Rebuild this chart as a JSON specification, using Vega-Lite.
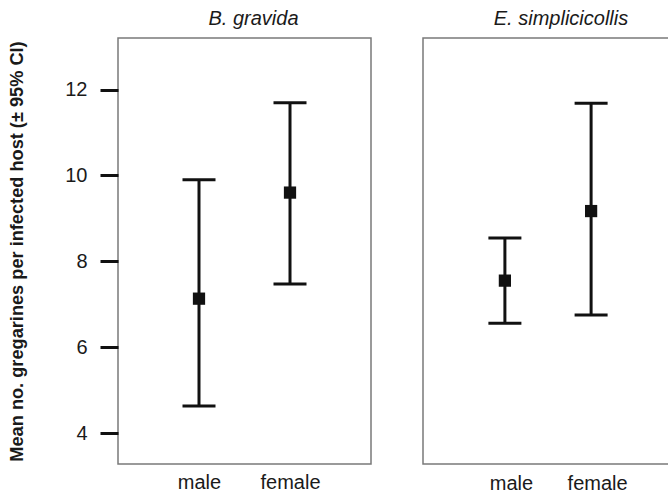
{
  "$schema": "https://vega.github.io/schema/vega-lite/v6.json",
  "padding": {"left": 7, "top": 8, "right": 0, "bottom": 0},
  "background": "white",
  "config": {
    "view": {"stroke": "#7a7a7a", "strokeWidth": 1.5},
    "font": "Liberation Sans",
    "title": {"font": "Liberation Sans", "fontSize": 20, "fontStyle": "italic", "fontWeight": "normal", "color": "#1a1a1a", "offset": 9},
    "axis": {"labelFont": "Liberation Sans", "titleFont": "Liberation Sans", "labelColor": "#1a1a1a", "titleColor": "#1a1a1a", "grid": false, "domain": false}
  },
  "data": {"values": [
    {"species": "B. gravida", "sex": "male", "mean": 7.13, "lower": 4.63, "upper": 9.90},
    {"species": "B. gravida", "sex": "female", "mean": 9.60, "lower": 7.47, "upper": 11.69},
    {"species": "E. simplicicollis", "sex": "male", "mean": 7.55, "lower": 6.56, "upper": 8.54},
    {"species": "E. simplicicollis", "sex": "female", "mean": 9.17, "lower": 6.75, "upper": 11.68}
  ]},
  "spacing": 50,
  "hconcat": [
    {
      "title": {"text": "B. gravida", "dx": 9},
      "width": 253,
      "height": 426,
      "transform": [{"filter": "datum.species === 'B. gravida'"}],
      "encoding": {
        "x": {"field": "sex", "type": "nominal", "sort": ["male", "female"],
          "scale": {"type": "point", "padding": 0.89},
          "axis": {"title": null, "labelAngle": 0, "labelFontSize": 20, "ticks": false, "tickSize": 0, "labelPadding": 8}}
      },
      "layer": [
        {"mark": {"type": "rule", "color": "#111", "strokeWidth": 3},
         "encoding": {
           "y": {"field": "lower", "type": "quantitative",
             "scale": {"domain": [3.28, 13.2], "nice": false, "zero": false},
             "axis": {"title": "Mean no. gregarines per infected host (± 95% CI)", "titleFontSize": 18.2, "titleFontWeight": "bold", "titlePadding": 38,
               "values": [4, 6, 8, 10, 12], "labelFontSize": 20, "tickSize": 18, "tickWidth": 3, "tickColor": "#111", "labelPadding": 13}},
           "y2": {"field": "upper"}}},
        {"mark": {"type": "tick", "color": "#111", "opacity": 1, "size": 33, "thickness": 3},
         "encoding": {"y": {"field": "lower", "type": "quantitative"}}},
        {"mark": {"type": "tick", "color": "#111", "opacity": 1, "size": 33, "thickness": 3},
         "encoding": {"y": {"field": "upper", "type": "quantitative"}}},
        {"mark": {"type": "point", "shape": "square", "filled": true, "color": "#111", "opacity": 1, "size": 150},
         "encoding": {"y": {"field": "mean", "type": "quantitative"}}}
      ]
    },
    {
      "title": {"text": "E. simplicicollis", "dx": 13},
      "width": 250,
      "height": 426,
      "transform": [{"filter": "datum.species === 'E. simplicicollis'"}],
      "encoding": {
        "x": {"field": "sex", "type": "nominal", "sort": ["male", "female"],
          "scale": {"type": "point", "padding": 0.95},
          "axis": {"title": null, "labelAngle": 0, "labelFontSize": 20, "ticks": false, "tickSize": 0, "labelPadding": 9, "labelOffset": 6}}
      },
      "layer": [
        {"mark": {"type": "rule", "color": "#111", "strokeWidth": 3},
         "encoding": {
           "y": {"field": "lower", "type": "quantitative",
             "scale": {"domain": [3.28, 13.2], "nice": false, "zero": false},
             "axis": null},
           "y2": {"field": "upper"}}},
        {"mark": {"type": "tick", "color": "#111", "opacity": 1, "size": 33, "thickness": 3},
         "encoding": {"y": {"field": "lower", "type": "quantitative"}}},
        {"mark": {"type": "tick", "color": "#111", "opacity": 1, "size": 33, "thickness": 3},
         "encoding": {"y": {"field": "upper", "type": "quantitative"}}},
        {"mark": {"type": "point", "shape": "square", "filled": true, "color": "#111", "opacity": 1, "size": 150},
         "encoding": {"y": {"field": "mean", "type": "quantitative"}}}
      ]
    }
  ]
}
